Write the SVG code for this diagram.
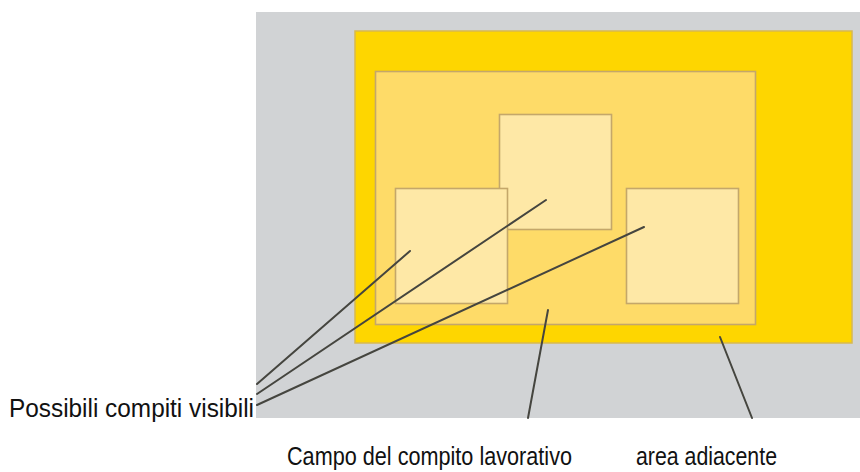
<svg xmlns="http://www.w3.org/2000/svg" width="860" height="472" viewBox="0 0 860 472">
<style>
.lbl{font-family:"Liberation Sans",Arial,sans-serif;font-size:25px;fill:#111}
.big{font-size:26px}
.box{fill:#fee8a6;stroke:#c4a76a;stroke-width:1.6}
.ln{stroke:#45453f;stroke-width:2;fill:none;stroke-linecap:round}
</style>
<rect width="860" height="472" fill="#ffffff"/>
<g id="background"><rect x="256" y="12" width="604" height="406" fill="#d1d3d5"/></g>
<g id="area-adiacente"><rect x="355" y="31" width="497" height="312" fill="#fed600" stroke="#d8b94e" stroke-width="1.5"/></g>
<g id="campo-compito"><rect x="375.5" y="71.5" width="380" height="253" fill="#fedb68" stroke="#c4a76a" stroke-width="1.6"/></g>
<g id="compito-alto"><rect x="499.5" y="114.5" width="112" height="115" class="box"/></g>
<g id="compito-sinistra"><rect x="395.5" y="188.5" width="112" height="115" class="box"/></g>
<g id="compito-destra"><rect x="626.5" y="188.5" width="112" height="115" class="box"/></g>
<g id="connectors">
<line x1="257" y1="384" x2="410" y2="251" class="ln"/>
<line x1="257" y1="394" x2="546" y2="200" class="ln"/>
<line x1="257" y1="405" x2="644" y2="227" class="ln"/>
<line x1="548" y1="310" x2="528" y2="418" class="ln"/>
<line x1="720" y1="337" x2="752" y2="418" class="ln"/>
</g>
<g id="labels">
<text x="9" y="417" class="lbl" textLength="245" lengthAdjust="spacingAndGlyphs">Possibili compiti visibili</text>
<text x="287" y="465" class="lbl big" textLength="285" lengthAdjust="spacingAndGlyphs">Campo del compito lavorativo</text>
<text x="636" y="465" class="lbl big" textLength="141" lengthAdjust="spacingAndGlyphs">area adiacente</text>
</g>
</svg>
